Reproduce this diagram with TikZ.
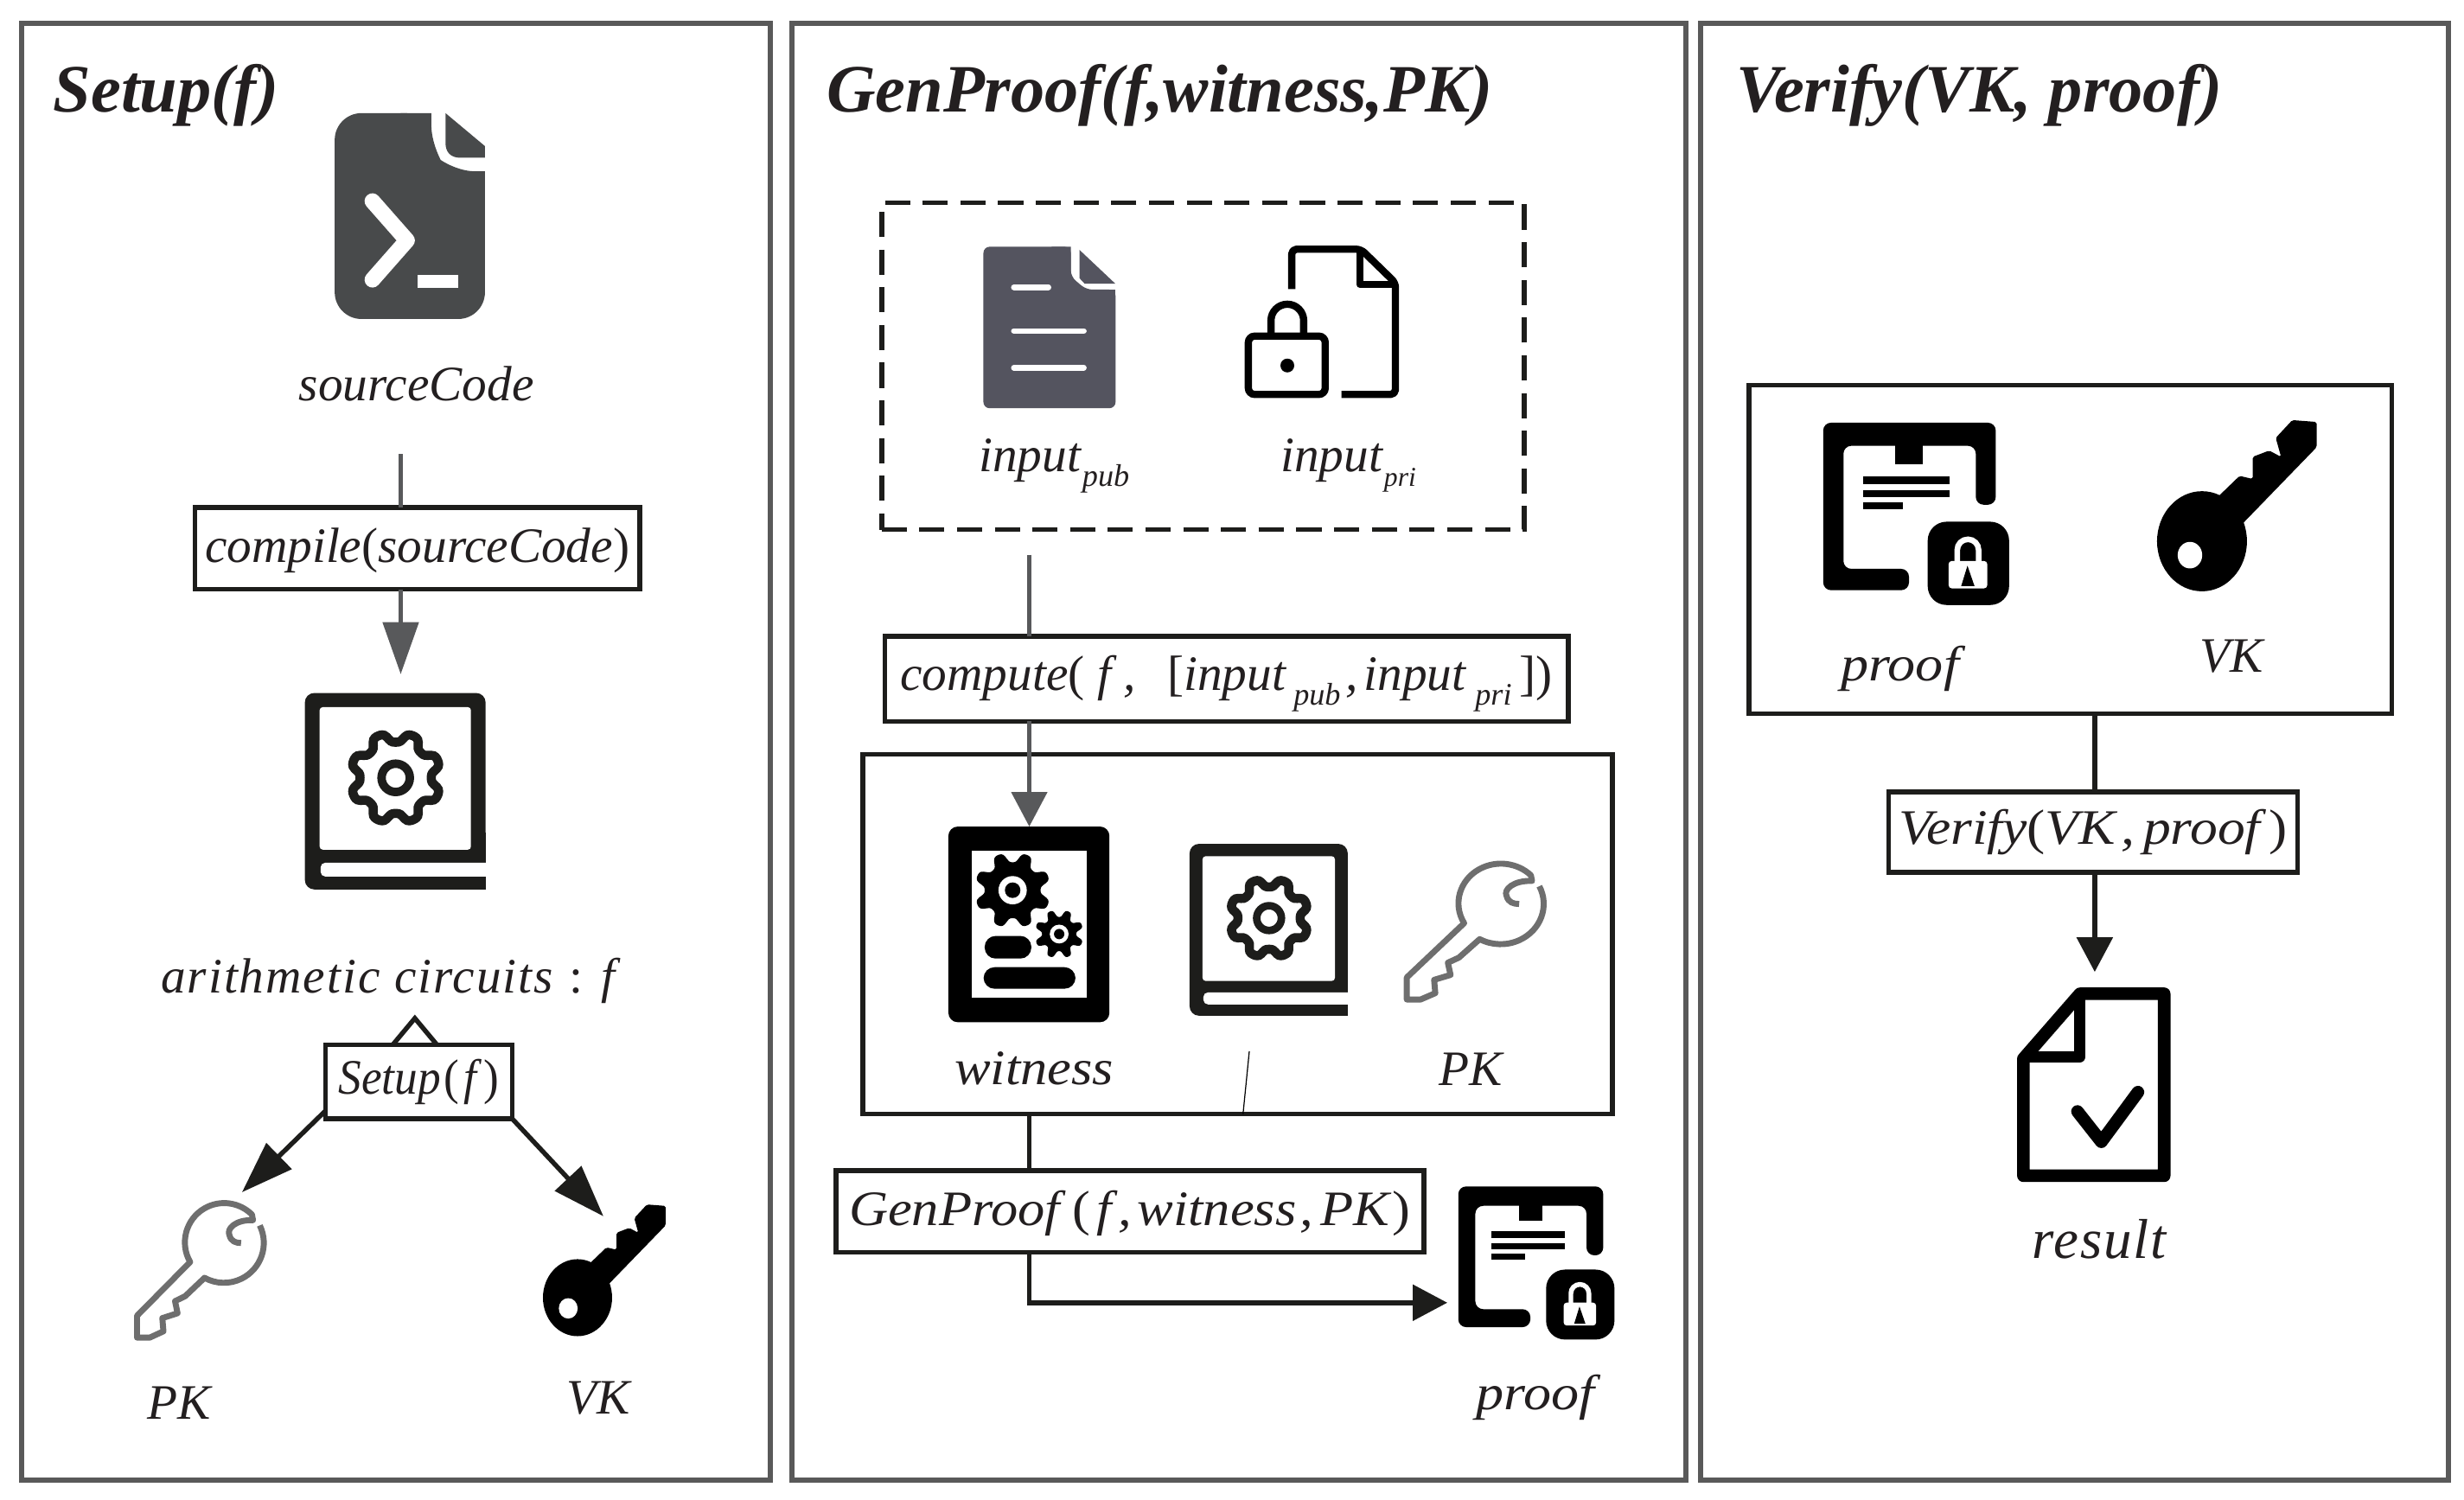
\documentclass[tikz,border=0pt]{standalone}
\usepackage{fontspec}
\usepackage{graphicx}
\setmainfont{Liberation Serif}
\usetikzlibrary{arrows.meta,calc}
\newdimen\ovu \ovu=0.0181763cm
\definecolor{panelgray}{HTML}{595959}
\definecolor{ink}{HTML}{1D1D1B}
\definecolor{conngray}{HTML}{58595B}
\definecolor{txtink}{HTML}{231F20}
\definecolor{solid}{HTML}{0A0B0A}
\definecolor{docdark}{HTML}{484A4B}
\definecolor{docslate}{HTML}{54545F}
\definecolor{keygray}{HTML}{6E6E6E}
\newcommand{\lp}{\textup{(}}
\newcommand{\rp}{\textup{)}}
\newcommand{\kk}[1]{\kern #1\ovu}
\newcommand{\subt}[1]{\raisebox{-.3em}{\fontsize{10.3}{12}\selectfont #1}}
\newcommand{\subs}[1]{\raisebox{-.3em}{\fontsize{9}{12}\selectfont #1}}
\newcommand{\gearline}[5]{% cx cy R A lw
  \draw[line width=#5\ovu,ink] plot[domain=0:360,samples=145] ({#1+(#3+#4*tanh(1.6*cos(8*(\x-22.5))))*cos(\x)},{#2+(#3+#4*tanh(1.6*cos(8*(\x-22.5))))*sin(\x)}) -- cycle;}
\newcommand{\gearsolid}[5]{% cx cy R A hole
  \fill[solid] plot[domain=0:360,samples=145] ({#1+(#3+#4*tanh(1.6*cos(8*(\x-22.5))))*cos(\x)},{#2+(#3+#4*tanh(1.6*cos(8*(\x-22.5))))*sin(\x)}) -- cycle;
  \fill[white] (#1,#2) circle[radius=#5];
  \fill[solid] (#1,#2) circle[radius=#5*0.55];}
\newcommand{\IconBook}[4]{%
 \begin{scope}[shift={(#1,#2)},xscale=#3,yscale=#3,shift={(-194,-441)}]
  \fill[ink,rounded corners=6\ovu] (194,441) rectangle (309,566);
  \fill[ink] (280,530) rectangle (309,566);
  \fill[white,rounded corners=2\ovu] (203.4,450) rectangle (299.7,540.7);
  \fill[white,rounded corners=3\ovu] (204,549) rectangle (315,557.8);
  \gearline{251.8}{495}{25.8}{3.4}{5.8}
  \draw[ink,line width=#4\ovu] (251.8,495) circle[radius=9];
 \end{scope}}
\newcommand{\IconKeyLine}[4]{%
 \begin{scope}[shift={(#1,#2)},xscale=#3,yscale=#4,shift={(-87,-765)}]
  \draw[keygray,line width=3.8\ovu,line join=round]
   (165.3,779.8) arc[start angle=-26,end angle=119,radius=25.4]
   -- (117.9,824.8) -- (111.4,828) -- (113,835.7) -- (103.3,838.8) -- (104,847.2) -- (95.3,851.2) -- (87.2,851.2) -- (87.2,837.3) -- (121,803.1)
   arc[start angle=150,end angle=315,radius=25]
   -- (161,776.5) .. controls (150,776) and (144,782) .. (146,786) .. controls (147,790) and (150,791) .. (153.4,791);
 \end{scope}}
\newcommand{\IconKeySolid}[4]{%
 \begin{scope}[shift={(#1,#2)},xscale=#3,yscale=#4,shift={(-345,-767)}]
  \fill[solid] (367.5,825.8) ellipse[x radius=22,y radius=24.5];
  \fill[solid,rounded corners=1\ovu] (374.6,804.7) -- (385.9,793.8) -- (392.3,795.3) -- (392.3,784.5) -- (400.4,781.4) -- (406.2,784.5) -- (403.6,775.2) -- (411.7,766.5) -- (423.6,767.4) -- (423.6,779.8) -- (389,815.5) -- (375,830) -- cycle;
  \fill[white] (361.6,832.6) ellipse[x radius=6,y radius=6.5];
 \end{scope}}
\newcommand{\IconProof}[3]{%
 \begin{scope}[shift={(#1,#2)},scale=#3,shift={(-1160.2,-269)}]
  \fill[solid,rounded corners=5\ovu] (1214.8,375.6) -- (1160.2,375.6) -- (1160.2,269) -- (1270,269) -- (1270,321.2) -- (1257.3,321.2) -- (1257.3,283.7) -- (1173.1,283.7) -- (1173.1,362) -- (1214.8,362) -- cycle;
  \fill[solid] (1206.2,283) rectangle (1223.6,295.3);
  \fill[solid] (1185.4,303) rectangle (1240.6,308);
  \fill[solid] (1185.4,311.9) rectangle (1240.6,316.5);
  \fill[solid] (1185.4,319.6) rectangle (1211,324.2);
  \fill[solid,rounded corners=12\ovu] (1226.7,332) rectangle (1278.5,385);
  \fill[white,rounded corners=2\ovu] (1240,357) rectangle (1264.6,374.4);
  \draw[white,line width=#3*3.6\ovu] (1245.5,358) -- (1245.5,350) arc[start angle=180,end angle=360,radius=6.8] -- (1259.1,358);
  \fill[solid] (1252,360) -- (1248,373) -- (1256.5,373) -- cycle;
 \end{scope}}
\begin{document}
\begin{tikzpicture}[x=0.0181763cm,y=-0.0181763cm,
  panelbox/.style={draw=panelgray,line width=3.3\ovu,fill=white,inner sep=0pt,outer sep=0pt},
  groupbox/.style={draw=ink,line width=3\ovu,fill=white,inner sep=0pt,outer sep=0pt},
  dashbox/.style={draw=ink,line width=3.2\ovu,dash pattern=on 16\ovu off 8\ovu,inner sep=0pt,outer sep=0pt},
  opbox/.style={draw=ink,line width=3\ovu,fill=white,inner sep=0pt,outer sep=0pt,font=\fontsize{16.3}{19}\selectfont\itshape,text=txtink},
  lab/.style={inner sep=0pt,outer sep=0pt,font=\fontsize{16.3}{19}\selectfont\itshape,text=txtink,anchor=base},
  ttl/.style={inner sep=0pt,outer sep=0pt,font=\bfseries\itshape\fontsize{22.3}{27}\selectfont,text=txtink,anchor=base west},
  graylink/.style={draw=conngray,line width=2.6\ovu},
  inklink/.style={draw=ink,line width=3\ovu},
  bigtip/.style={-{Triangle[length=.6cm,width=.41cm]}},
  midtip/.style={-{Triangle[length=.4cm,width=.41cm]}}]
\path[fill=white,use as bounding box] (0,0) rectangle (1568,954.5);
% panels
\node[panelbox,minimum width=8.652cm,minimum height=16.85cm] (p1) at (252,478.5) {};
\node[panelbox,minimum width=10.342cm,minimum height=16.85cm] (p2) at (788.5,478.5) {};
\node[panelbox,minimum width=8.652cm,minimum height=16.85cm] (p3) at (1320,478.5) {};
\node[ttl] (t1) at (34,71) {Setup(f)};
\node[ttl] (t2) at (526,71) {GenProof(f,witness,PK)};
\node[ttl] (t3) at (1105,71) {Verify(VK, proof)};
% ---------- Setup
\fill[docdark,rounded corners=17\ovu] (274.5,72) -- (213,72) -- (213,203) -- (308.6,203) -- (308.6,109) -- (285,109) -- (274.5,97) -- cycle;
\fill[docdark] (274.5,72) -- (255,72) -- (255,100) -- (274.5,90) -- cycle;
\fill[docdark] (290,109) rectangle (308.6,130);
\fill[docdark] (283.5,72) -- (308.6,93) -- (308.6,100.4) -- (293,100.4) .. controls (287,100.4) and (283.5,97) .. (283.5,91) -- cycle;
\draw[white,line width=10\ovu,line cap=round,line join=round] (237,128) -- (259,153) -- (237,178);
\fill[white] (265.5,174.7) rectangle (291.5,183);
\node[lab] (src) at (265,255) {sourceCode};
\node[opbox,minimum width=5.144cm,minimum height=.945cm] (compile) at (265.5,349) {\rule{0pt}{12.7pt}compile\lp sourceCode\rp};
\coordinate (srcx) at (255,289);
\coordinate (booktop) at (255,429);
\draw[graylink] (srcx) -- (srcx |- compile.north);
\draw[graylink,bigtip] (srcx |- compile.south) -- (booktop);
\IconBook{194}{441}{1}{5.4}
\node[lab] (arith) at (247,632) {\addfontfeature{LetterSpace=3.5}arithmetic circuits \textup{:} f};
\IconKeyLine{87}{765}{1}{1}
\IconKeySolid{345}{767}{1}{1}
\coordinate (peak) at (264,648);
\coordinate (pktip) at (154,758.7);
\coordinate (vktip) at (384,774);
\draw[inklink] (249,666) -- (peak) -- (279,666);
\node[opbox,minimum width=2.163cm,minimum height=.854cm] (setupop) at (266.5,688.5) {\scalebox{.93}[1]{Setup\kk{2}\lp\kk{3}f\kk{5}\rp}};
\draw[inklink,bigtip] (setupop.west |- 0,707) -- (pktip);
\draw[inklink,bigtip] (setupop.south east) -- (vktip);
\node[lab] (pk1) at (114,903) {PK};
\node[lab] (vk1) at (381,900) {VK};
% ---------- GenProof
\node[dashbox,minimum width=7.434cm,minimum height=3.781cm] (inputs) at (765.5,233) {};
\begin{scope}[xshift=-0.8\ovu]
\fill[docslate,rounded corners=4\ovu] (682.2,157) -- (626.6,157) -- (626.6,259.8) -- (710.7,259.8) -- (710.7,184.3) -- (692,184.3) -- (682.2,176) -- cycle;
\fill[docslate] (682.2,157) -- (670,157) -- (670,190) -- (682.2,176) -- cycle;
\fill[docslate] (692,184.3) rectangle (710.7,195);
\fill[docslate] (687.7,159) -- (710.5,180.5) -- (691,180.5) -- (687.7,177) -- cycle;
\draw[white,line width=3.6\ovu,line cap=round] (646,182.8) -- (668,182.8) (646,210.6) -- (690.5,210.6) (646,234) -- (690.5,234);
\end{scope}
\draw[black,line width=4.6\ovu,line join=round,rounded corners=3\ovu] (822,184) -- (822,158.6) -- (866,158.6) -- (888,180) -- (888,251) -- (853.7,251);
\draw[black,line width=4.6\ovu,line join=round] (865.4,158.6) -- (865.4,181) -- (888,181);
\draw[black,line width=4.6\ovu,rounded corners=4\ovu] (794.4,213.9) rectangle (843.3,251);
\draw[black,line width=4.6\ovu] (808.8,213.9) -- (808.8,204) arc[start angle=180,end angle=360,radius=10.4] -- (829.6,213.9);
\fill[black] (819.2,232.6) circle[radius=4.4];
\node[lab,anchor=base west] (inpub) at (623,300) {input\kk{1}\subt{pub}};
\node[lab,anchor=base west] (inpri) at (815,300) {input\kk{1}\subs{pri}};
\node[groupbox,minimum width=8.67cm,minimum height=4.162cm] (wbox) at (787.5,594.5) {};
\node[opbox,minimum width=7.907cm,minimum height=.982cm] (compute) at (780.5,432) {\rule{0pt}{14.5pt}compute\lp\kk{8}f\kk{8},\kk{20}\textup{[}input\kk{5}\subt{pub}\kk{3},\kk{4}input\kk{6}\subt{pri}\kk{5}\textup{]}\rp};
\coordinate (inx) at (655,353);
\coordinate (wtop) at (655,526);
\draw[graylink] (inx) -- (inx |- compute.north);
\draw[graylink,midtip] (inx |- compute.south) -- (wtop);
\fill[solid,rounded corners=6\ovu] (603.5,526) rectangle (706,650.5);
\fill[white] (618.5,541.3) rectangle (691.8,634.8);
\gearsolid{644.4}{566.5}{21}{3.5}{9}
\gearsolid{674}{594.4}{13.2}{2.5}{6}
\fill[solid,rounded corners=7\ovu] (626.6,595.6) rectangle (656.3,610);
\fill[solid,rounded corners=7\ovu] (625.9,615.5) rectangle (684.4,629.2);
\IconBook{757}{537}{0.875}{4.8}
\IconKeyLine{895}{549}{1.08}{1.01}
\node[lab] (wit) at (658,690) {\scalebox{1.09}[1]{witness}};
\node[lab] (pk2) at (936,691) {PK};
\coordinate (f1) at (795,669);
\draw[black,line width=.35pt] (f1) -- ($(f1 |- wbox.south)+(-4,0)$);
\node[opbox,minimum width=6.798cm,minimum height=.945cm] (genop) at (719,771) {\rule{0pt}{12.7pt}\scalebox{1.09}[1]{GenProof\kk{7}\lp\kk{4}f\kk{4},\kk{3}witness\kk{2},\kk{4}PK\kk{2}\rp}};
\coordinate (wout) at (655,709);
\coordinate (ptip) at (921,829);
\draw[inklink] (wout) -- (wout |- genop.north);
\draw[inklink,midtip] (wout |- genop.south) -- (wout |- ptip) -- (ptip);
\IconProof{928}{755}{0.84}
\node[lab] (pr1) at (977,897) {\scalebox{1.12}[1]{proof}};
% ---------- Verify
\node[groupbox,minimum width=7.434cm,minimum height=3.799cm] (vbox) at (1317.5,349.5) {};
\IconProof{1160.2}{269}{1}
\IconKeySolid{1372}{268}{1.3}{1.3}
\node[lab] (pr2) at (1209,433) {\scalebox{1.12}[1]{proof}};
\node[lab] (vk2) at (1420,428) {VK};
\node[opbox,minimum width=4.726cm,minimum height=.927cm] (vop) at (1332,529.5) {\scalebox{1.11}[1]{Verify\lp VK\kk{3},\kk{5}proof\kk{5}\rp}};
\coordinate (vx) at (1333,454);
\coordinate (rtip) at (1333,618.5);
\draw[inklink] (vx) -- (vx |- vop.north);
\draw[inklink,midtip] (vx |- vop.south) -- (rtip);
\draw[solid,line width=8\ovu,line join=round] (1323.6,632.4) -- (1377.2,632.4) -- (1377.2,748.2) -- (1287.6,748.2) -- (1287.6,673.7) -- cycle;
\draw[solid,line width=7\ovu,line join=round] (1323.6,632.4) -- (1323.6,672.5) -- (1287.6,672.5);
\draw[solid,line width=8\ovu,line cap=round,line join=round] (1322,707.3) -- (1337.2,726.6) -- (1360.5,695);
\node[lab,font=\fontsize{18.5}{22}\selectfont\itshape] (res) at (1336,800.5) {\addfontfeature{LetterSpace=3}result};
\end{tikzpicture}
\end{document}
